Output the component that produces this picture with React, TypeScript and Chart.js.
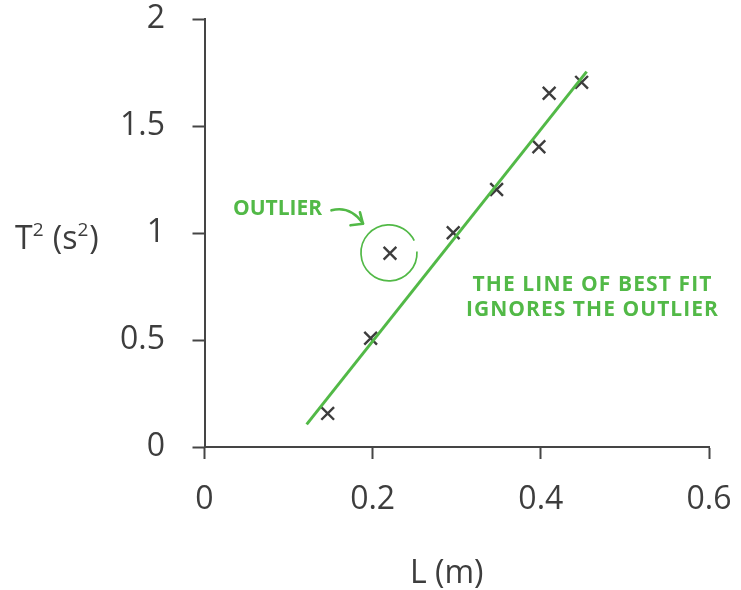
import React, { useEffect, useRef } from "react";
import { Chart, registerables } from "chart.js";

Chart.register(...registerables);

// ---- data ----
const xTickValues = [0, 0.2, 0.4, 0.6];
const xTickLabels = ["0", "0.2", "0.4", "0.6"];
const yTickValues = [0, 0.5, 1, 1.5, 2];
const yTickLabels = ["0", "0.5", "1", "1.5", "2"];

const lengthL = [0.1465, 0.1976, 0.2958, 0.3474, 0.3977, 0.4099, 0.4485];
const periodSq = [0.157, 0.508, 1.001, 1.203, 1.403, 1.653, 1.704];

const outlierL = [0.2206];
const outlierT2 = [0.905];

const fitL = [0.1215, 0.4545];
const fitT2 = [0.106, 1.754];

const outlierNote = "OUTLIER";
const fitNote = ["THE LINE OF BEST FIT", "IGNORES THE OUTLIER"];
const xTitle = "L (m)";

// ---- styles ----
const GREEN = "#52b947";
const INK = "#3d3d3d";
const AXIS = "#454545";
const FONT = '"Open Sans", "Noto Sans", sans-serif';

function drawFitted(ctx: CanvasRenderingContext2D, text: string, cx: number, cy: number, target: number) {
  ctx.letterSpacing = "0px";
  const w = ctx.measureText(text).width;
  const ls = (target - w) / Math.max(1, text.length - 1);
  ctx.letterSpacing = ls.toFixed(2) + "px";
  ctx.textAlign = "left";
  ctx.fillText(text, cx - target / 2, cy);
  ctx.letterSpacing = "0px";
}

const annotate = {
  id: "annotate",
  afterDatasetsDraw(chart: any) {
    const ctx: CanvasRenderingContext2D = chart.ctx;
    const xs = chart.scales.x;
    const ys = chart.scales.y;
    const px = xs.getPixelForValue(outlierL[0]);
    const py = ys.getPixelForValue(outlierT2[0]);
    ctx.save();
    // circle around outlier
    ctx.strokeStyle = GREEN;
    ctx.lineWidth = 1.7;
    ctx.beginPath();
    ctx.arc(px - 1, py - 0.5, 28, -0.05, Math.PI * 2 - 0.45);
    ctx.stroke();
    // arrow
    ctx.lineWidth = 2.6;
    ctx.lineCap = "round";
    ctx.lineJoin = "round";
    ctx.beginPath();
    ctx.moveTo(px - 58.5, py - 43);
    ctx.quadraticCurveTo(px - 40, py - 48, px - 27, py - 30);
    ctx.stroke();
    ctx.beginPath();
    ctx.moveTo(px - 30, py - 41);
    ctx.lineTo(px - 27, py - 29.5);
    ctx.lineTo(px - 39.5, py - 28);
    ctx.stroke();
    // texts
    ctx.fillStyle = GREEN;
    ctx.font = `bold 21px ${FONT}`;
    ctx.textBaseline = "middle";
    drawFitted(ctx, outlierNote, xs.getPixelForValue(0.0868), ys.getPixelForValue(1.11), 89);
    drawFitted(ctx, fitNote[0], xs.getPixelForValue(0.4608), ys.getPixelForValue(0.755), 239);
    drawFitted(ctx, fitNote[1], xs.getPixelForValue(0.4608), ys.getPixelForValue(0.638), 252);
    ctx.restore();
  },
  afterDraw(chart: any) {
    const ctx: CanvasRenderingContext2D = chart.ctx;
    const area = chart.chartArea;
    ctx.save();
    ctx.fillStyle = INK;
    ctx.textBaseline = "alphabetic";
    // x title
    ctx.font = `32px ${FONT}`;
    ctx.textAlign = "center";
    ctx.fillText(xTitle, (area.left + area.right) / 2 - 10, 583);
    // y title  T² (s²)
    ctx.textAlign = "left";
    let x = 15;
    const base = 249;
    const parts: [string, boolean][] = [["T", false], ["2", true], [" (s", false], ["2", true], [")", false]];
    for (const [t, sup] of parts) {
      ctx.font = sup ? `19px ${FONT}` : `32px ${FONT}`;
      ctx.fillText(t, x, sup ? base - 13 : base);
      x += ctx.measureText(t).width + (sup ? 1 : 0);
    }
    ctx.restore();
  },
};

function zeroPad(s: any) {
  s.paddingTop = 0;
  s.paddingBottom = 0;
  s.paddingLeft = 0;
  s.paddingRight = 0;
}

export default function App() {
  const ref = useRef<HTMLCanvasElement | null>(null);
  useEffect(() => {
    if (!ref.current) return;
    const tickFont = { family: FONT, size: 32 };
    const chart = new Chart(ref.current, {
      type: "scatter",
      data: {
        datasets: [
          {
            type: "line",
            data: fitL.map((v, i) => ({ x: v, y: fitT2[i] })),
            borderColor: GREEN,
            borderWidth: 3,
            pointRadius: 0,
            fill: false,
          } as any,
          {
            data: lengthL.map((v, i) => ({ x: v, y: periodSq[i] })),
            pointStyle: "crossRot",
            pointRadius: 9,
            pointBorderWidth: 2.4,
            borderColor: INK,
            backgroundColor: INK,
          },
          {
            data: outlierL.map((v, i) => ({ x: v, y: outlierT2[i] })),
            pointStyle: "crossRot",
            pointRadius: 9,
            pointBorderWidth: 2.4,
            borderColor: INK,
            backgroundColor: INK,
          },
        ],
      },
      options: {
        responsive: false,
        animation: false,
        layout: { padding: { top: 19, right: 32, left: 0, bottom: 0 } },
        plugins: { legend: { display: false }, tooltip: { enabled: false } },
        scales: {
          x: {
            type: "linear",
            min: 0,
            max: 0.6,
            afterFit: (s: any) => {
              s.height = 143;
              zeroPad(s);
            },
            afterBuildTicks: (s: any) => {
              s.ticks = xTickValues.map((v) => ({ value: v }));
            },
            grid: { drawOnChartArea: false, tickLength: 12, tickWidth: 2, tickColor: AXIS },
            border: { color: AXIS, width: 2 },
            ticks: {
              padding: 22,
              font: tickFont,
              color: INK,
              maxRotation: 0,
              autoSkip: false,
              callback: (_v: any, i: number) => xTickLabels[i],
            },
          },
          y: {
            type: "linear",
            min: 0,
            max: 2,
            afterFit: (s: any) => {
              s.width = 204.5;
              zeroPad(s);
            },
            afterBuildTicks: (s: any) => {
              s.ticks = yTickValues.map((v) => ({ value: v }));
            },
            grid: { drawOnChartArea: false, tickLength: 12, tickWidth: 2, tickColor: AXIS },
            border: { color: AXIS, width: 2 },
            ticks: {
              padding: 27.5,
              font: tickFont,
              color: INK,
              autoSkip: false,
              callback: (_v: any, i: number) => yTickLabels[i],
            },
          },
        },
      },
      plugins: [annotate],
    });
    return () => chart.destroy();
  }, []);
  return (
    <div style={{ position: "fixed", left: 0, top: 0, width: 741, height: 590, background: "#fff" }}>
      <canvas ref={ref} width={741} height={590} style={{ width: 741, height: 590, display: "block" }} />
    </div>
  );
}
